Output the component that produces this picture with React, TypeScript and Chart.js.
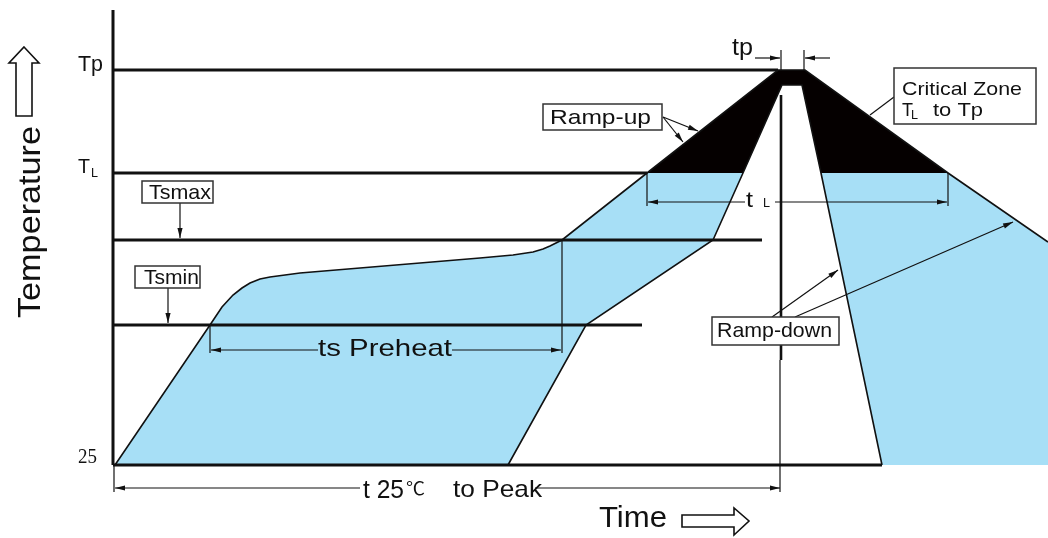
import React, { useEffect, useRef } from "react";
import { Chart, registerables } from "chart.js";

Chart.register(...registerables);

const W = 1048;
const H = 538;

// ---- data (time units along x, temperature units along y, up = hotter) ----
const outerTime = [115, 210, 216, 222, 233, 242, 250, 260, 270, 285, 300, 480, 513, 533, 543, 550, 556, 562, 647, 778, 805, 948, 1048];
const outerTemp = [73, 213, 222, 231, 243, 250, 255, 259, 261, 263, 265, 280, 283, 286, 289, 292, 295, 298, 365, 468, 468, 365, 296];
const innerTime = [508, 586, 713, 743, 782, 802, 821, 882];
const innerTemp = [73, 213, 298, 365, 453, 453, 365, 73];

const levelNames = ["Tp", "TL", "Tsmax", "Tsmin", "25"];
const levelTemps = [468, 365, 298, 213, 73];
const levelEnds = [778, 647, 762, 642, 882];
const axisStart = 113;
const axisTop = 528;

const BLUE = "#a7dff6";
const INK = "#111111";
const SANS = "'Liberation Sans', Arial, Helvetica, sans-serif";
const SERIF = "'Liberation Serif', 'Times New Roman', serif";
const CJK = "'Noto Sans CJK SC', 'Noto Sans CJK JP', sans-serif";

type P = { x: number; y: number };
const outer: P[] = outerTime.map((x, i) => ({ x, y: outerTemp[i] }));
const inner: P[] = innerTime.map((x, i) => ({ x, y: innerTemp[i] }));
const TL = levelTemps[1];
const T25 = levelTemps[4];

function buildPolys() {
  const leftBlue = [
    ...outer.filter((p) => p.x <= 647),
    ...inner.filter((p) => p.x <= 743).reverse(),
  ];
  const rightBlue = [
    ...outer.filter((p) => p.x >= 948),
    { x: W, y: T25 },
    ...inner.filter((p) => p.x >= 821).reverse(),
  ];
  const black = [
    ...outer.filter((p) => p.x >= 647 && p.x <= 948),
    ...inner.filter((p) => p.x >= 743 && p.x <= 821).reverse(),
  ];
  const close = (a: P[]) => [...a, a[0]];
  return { leftBlue: close(leftBlue), rightBlue: close(rightBlue), black: close(black) };
}

// ---- annotation helpers ----
type Txt = { s: string; x: number; y: number; size: number; w: number; font?: string };
const texts: Txt[] = [
  { s: "Tp", x: 78, y: 467, size: 22, w: 25 },
  { s: "T", x: 78, y: 365, size: 21, w: 12 },
  { s: "L", x: 91, y: 361, size: 13, w: 7 },
  { s: "25", x: 78, y: 75, size: 21, w: 19, font: SERIF },
  { s: "Time", x: 599, y: 11, size: 29, w: 68 },
  { s: "tp", x: 732, y: 483, size: 24, w: 21 },
  { s: "t", x: 746, y: 331, size: 22, w: 7 },
  { s: "L", x: 763, y: 331, size: 12, w: 7 },
  { s: "ts Preheat", x: 318, y: 182, size: 24, w: 134 },
  { s: "t 25", x: 363, y: 40, size: 25, w: 41 },
  { s: "\u2103", x: 406, y: 43, size: 18, w: 19, font: CJK },
  { s: "to Peak", x: 453, y: 41, size: 24, w: 89 },
  { s: "Critical Zone", x: 902, y: 443, size: 19, w: 120 },
  { s: "T", x: 902, y: 422, size: 19, w: 11 },
  { s: "L", x: 911, y: 419, size: 12, w: 7 },
  { s: "to Tp", x: 933, y: 422, size: 19, w: 50 },
];

type Box = { x1: number; y1: number; x2: number; y2: number; label?: Txt };
const boxes: Box[] = [
  { x1: 142, y1: 357, x2: 213, y2: 335, label: { s: "Tsmax", x: 149, y: 339, size: 21, w: 62 } },
  { x1: 135, y1: 272, x2: 200, y2: 250, label: { s: "Tsmin", x: 144, y: 254, size: 21, w: 55 } },
  { x1: 543, y1: 434, x2: 662, y2: 408, label: { s: "Ramp-up", x: 550, y: 414, size: 21, w: 101 } },
  { x1: 712, y1: 221, x2: 839, y2: 193, label: { s: "Ramp-down", x: 717, y: 201, size: 21, w: 115 } },
  { x1: 894, y1: 470, x2: 1036, y2: 414 },
];

// [t1, T1, t2, T2, arrowhead at end (0/1)]
const thinLines: number[][] = [
  [114, 73, 114, 46, 0],
  [780, 178, 780, 46, 0],
  [210, 213, 210, 185, 0],
  [562, 298, 562, 185, 0],
  [647, 365, 647, 332, 0],
  [948, 365, 948, 332, 0],
  [781, 488, 781, 468, 0],
  [804, 488, 804, 468, 0],
  [894, 441, 870, 423, 0],
  [360, 50, 115, 50, 1],
  [535, 50, 780, 50, 1],
  [318, 188, 211, 188, 1],
  [452, 188, 561, 188, 1],
  [745, 336, 648, 336, 1],
  [775, 336, 947, 336, 1],
  [755, 480, 780, 480, 1],
  [830, 480, 805, 480, 1],
  [180, 335, 180, 300, 1],
  [168, 250, 168, 215, 1],
  [663, 421, 698, 407, 1],
  [663, 421, 683, 396, 1],
  [772, 221, 838, 268, 1],
  [795, 221, 1013, 316, 1],
];

const upArrow = [[24, 491], [39, 475], [32, 475], [32, 422], [16, 422], [16, 475], [9, 475]];
const rightArrow = [[682, 23], [734, 23], [734, 30], [749, 17], [734, 3], [734, 11], [682, 11]];

function fitText(ctx: CanvasRenderingContext2D, t: Txt, px: number, py: number) {
  ctx.save();
  ctx.font = `${t.size}px ${t.font || SANS}`;
  const m = ctx.measureText(t.s).width || 1;
  ctx.translate(px, py);
  ctx.scale(t.w / m, 1);
  ctx.textAlign = "left";
  ctx.textBaseline = "alphabetic";
  ctx.fillStyle = INK;
  ctx.fillText(t.s, 0, 0);
  ctx.restore();
}

function head(ctx: CanvasRenderingContext2D, x1: number, y1: number, x2: number, y2: number, len: number, half: number) {
  const a = Math.atan2(y2 - y1, x2 - x1);
  const c = Math.cos(a), s = Math.sin(a);
  ctx.beginPath();
  ctx.moveTo(x2, y2);
  ctx.lineTo(x2 - len * c + half * s, y2 - len * s - half * c);
  ctx.lineTo(x2 - len * c - half * s, y2 - len * s + half * c);
  ctx.closePath();
  ctx.fill();
}

const annotPlugin = {
  id: "reflowAnnotations",
  afterDatasetsDraw(chart: any) {
    const ctx: CanvasRenderingContext2D = chart.ctx;
    const X = (v: number) => chart.scales.x.getPixelForValue(v);
    const Y = (v: number) => chart.scales.y.getPixelForValue(v);
    ctx.save();
    ctx.strokeStyle = INK;
    ctx.fillStyle = INK;
    ctx.lineCap = "butt";

    // thin dimension / leader lines
    ctx.lineWidth = 1.2;
    for (const [t1, T1, t2, T2, arr] of thinLines) {
      const x1 = X(t1), y1 = Y(T1), x2 = X(t2), y2 = Y(T2);
      ctx.beginPath();
      ctx.moveTo(x1, y1);
      ctx.lineTo(x2, y2);
      ctx.stroke();
      if (arr) head(ctx, x1, y1, x2, y2, 10, 2.6);
    }

    // thick peak marker
    ctx.lineWidth = 2.6;
    ctx.beginPath();
    ctx.moveTo(X(781), Y(443));
    ctx.lineTo(X(781), Y(178));
    ctx.stroke();

    // boxes
    for (const b of boxes) {
      const x = X(b.x1), y = Y(b.y1), w = X(b.x2) - x, h = Y(b.y2) - y;
      ctx.fillStyle = "#ffffff";
      ctx.fillRect(x, y, w, h);
      ctx.strokeStyle = "#333333";
      ctx.lineWidth = 1.5;
      ctx.strokeRect(x, y, w, h);
      if (b.label) fitText(ctx, b.label, X(b.label.x), Y(b.label.y));
    }

    // free texts
    for (const t of texts) fitText(ctx, t, X(t.x), Y(t.y));

    // rotated axis title
    ctx.save();
    ctx.font = `32px ${SANS}`;
    const m = ctx.measureText("Temperature").width || 1;
    ctx.translate(X(40), Y(316));
    ctx.rotate(-Math.PI / 2);
    ctx.scale(192 / m, 1);
    ctx.textAlign = "center";
    ctx.textBaseline = "alphabetic";
    ctx.fillStyle = INK;
    ctx.fillText("Temperature", 0, 0);
    ctx.restore();

    // outline arrows
    ctx.strokeStyle = INK;
    ctx.lineWidth = 1.6;
    ctx.lineJoin = "miter";
    for (const poly of [upArrow, rightArrow]) {
      ctx.beginPath();
      poly.forEach(([a, b], i) => (i ? ctx.lineTo(X(a), Y(b)) : ctx.moveTo(X(a), Y(b))));
      ctx.closePath();
      ctx.fillStyle = "#ffffff";
      ctx.fill();
      ctx.stroke();
    }
    ctx.restore();
  },
};

export default function App() {
  const ref = useRef<HTMLCanvasElement | null>(null);

  useEffect(() => {
    if (!ref.current) return;
    const { leftBlue, rightBlue, black } = buildPolys();
    const base = { pointRadius: 0, tension: 0, fill: false, borderColor: INK };
    const levelSets = levelNames.map((name, i) => ({
      ...base,
      label: name,
      data: [
        { x: axisStart, y: levelTemps[i] },
        { x: levelEnds[i], y: levelTemps[i] },
      ],
      borderWidth: 3,
      order: 2,
    }));
    const chart = new Chart(ref.current, {
      type: "line",
      data: {
        datasets: [
          { ...base, label: "outer profile", data: outer, borderWidth: 1.6, order: 1 },
          { ...base, label: "inner profile", data: inner, borderWidth: 1.6, order: 1 },
          ...levelSets,
          {
            ...base,
            label: "Temperature axis",
            data: [
              { x: axisStart, y: T25 },
              { x: axisStart, y: axisTop },
            ],
            borderWidth: 3,
            order: 2,
          },
          { ...base, label: "critical zone", data: black, borderWidth: 0, borderColor: "rgba(0,0,0,0)", backgroundColor: "#050000", fill: "shape", order: 5 },
          { ...base, label: "window right", data: rightBlue, borderWidth: 0, borderColor: "rgba(0,0,0,0)", backgroundColor: BLUE, fill: "shape", order: 6 },
          { ...base, label: "window left", data: leftBlue, borderWidth: 0, borderColor: "rgba(0,0,0,0)", backgroundColor: BLUE, fill: "shape", order: 6 },
        ],
      } as any,
      options: {
        animation: false,
        responsive: false,
        devicePixelRatio: 1,
        events: [],
        layout: { padding: 0 },
        plugins: { legend: { display: false }, tooltip: { enabled: false } },
        scales: {
          x: { type: "linear", min: 0, max: W, display: false },
          y: { type: "linear", min: 0, max: H, display: false },
        },
      } as any,
      plugins: [annotPlugin],
    });
    return () => chart.destroy();
  }, []);

  return (
    <div style={{ position: "fixed", left: 0, top: 0, width: W, height: H, background: "#fff" }}>
      <canvas ref={ref} width={W} height={H} style={{ display: "block", width: W, height: H }} />
    </div>
  );
}
